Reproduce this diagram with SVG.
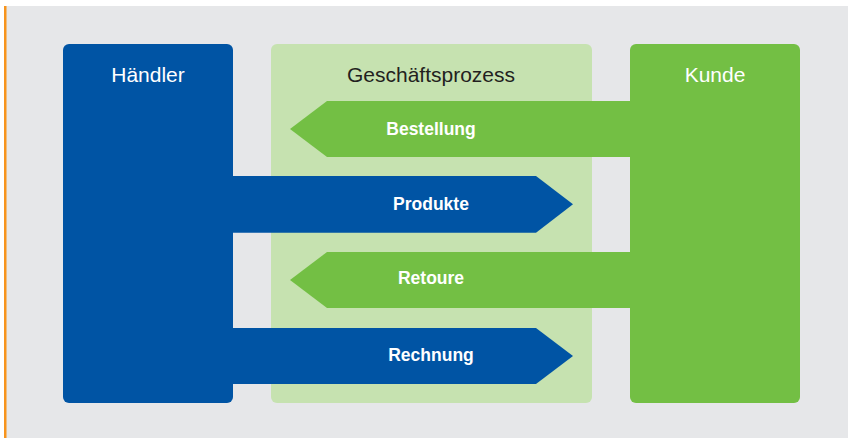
<svg xmlns="http://www.w3.org/2000/svg" width="848" height="438" viewBox="0 0 848 438">
  <style>
    .head { font-family: "Liberation Sans", Arial, sans-serif; font-size: 21px; text-anchor: middle; }
    .lbl { font-family: "Liberation Sans", Arial, sans-serif; font-size: 17.5px; font-weight: bold; fill: #ffffff; text-anchor: middle; }
    .blue { fill: #0054a4; }
    .green { fill: #73bf44; }
  </style>
  <!-- page -->
  <rect x="0" y="0" width="848" height="438" fill="#ffffff"/>
  <rect x="6" y="6" width="842" height="432" fill="#e6e7e9"/>
  <rect x="4" y="6" width="2.5" height="432" fill="#f7941d"/>

  <!-- columns -->
  <g id="haendler">
    <rect class="blue" x="63" y="44" width="170" height="359" rx="6"/>
    <text class="head" x="148" y="81.5" fill="#ffffff">Händler</text>
  </g>
  <g id="geschaeftsprozess">
    <rect x="271" y="44" width="321" height="359" rx="6" fill="#c6e2b0"/>
    <text class="head" x="431" y="82" fill="#231f20">Geschäftsprozess</text>
  </g>
  <g id="kunde">
    <rect class="green" x="630" y="44" width="170" height="359" rx="6"/>
    <text class="head" x="715" y="81.5" fill="#ffffff">Kunde</text>
  </g>

  <!-- flows -->
  <g id="connectors">
    <g id="bestellung">
      <polygon class="green" points="631,101 327,101 290,129 327,157 631,157"/>
      <text class="lbl" x="431" y="135">Bestellung</text>
    </g>
    <g id="produkte">
      <polygon class="blue" points="232,176 536,176 573,204.3 536,232.7 232,232.7"/>
      <text class="lbl" x="431" y="210">Produkte</text>
    </g>
    <g id="retoure">
      <polygon class="green" points="631,252 327,252 290,280 327,308 631,308"/>
      <text class="lbl" x="431" y="284">Retoure</text>
    </g>
    <g id="rechnung">
      <polygon class="blue" points="232,328 536,328 573,356 536,384 232,384"/>
      <text class="lbl" x="431" y="360.5">Rechnung</text>
    </g>
  </g>
</svg>
